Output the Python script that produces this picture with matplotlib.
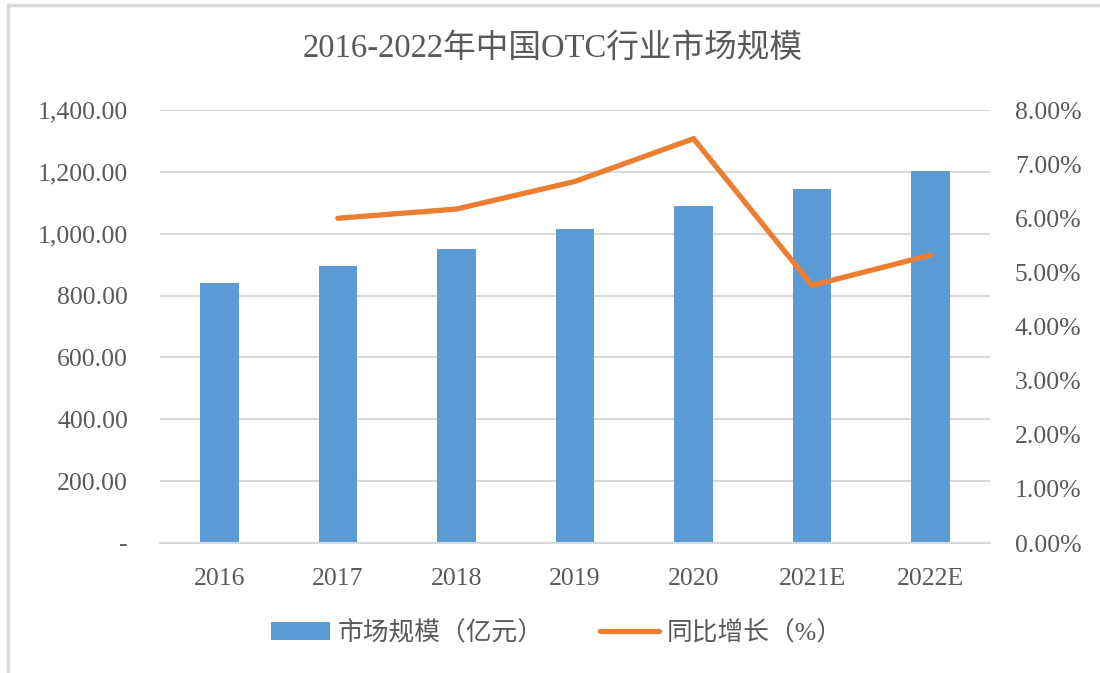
import matplotlib
matplotlib.use("Agg")
import matplotlib.pyplot as plt
from matplotlib.lines import Line2D
from matplotlib.ticker import FuncFormatter

years = ["2016", "2017", "2018", "2019", "2020", "2021E", "2022E"]
market_size = [842, 894, 952, 1015, 1090, 1143, 1204]   # 亿元
yoy_growth = [None, 6.00, 6.17, 6.68, 7.47, 4.76, 5.32]  # %

FONT = ["Liberation Serif", "Noto Sans CJK SC", "DejaVu Sans"]
plt.rcParams["font.family"] = FONT
TXT = "#595959"
GRID = "#D9D9D9"
BLUE = "#5B9BD5"
ORANGE = "#ED7D31"

fig = plt.figure(figsize=(11, 6.73), dpi=100)
ax = fig.add_axes([160 / 1100, 1 - 543 / 673, 830 / 1100, 433 / 673])
ax2 = ax.twinx()

x = list(range(len(years)))
ax.bar(x, market_size, width=0.325, color=BLUE, zorder=2, label="市场规模（亿元）")
lx = [i for i, v in zip(x, yoy_growth) if v is not None]
ly = [v for v in yoy_growth if v is not None]
ax2.plot(lx, ly, color=ORANGE, lw=3.8, solid_capstyle="round", solid_joinstyle="miter",
         label="同比增长（%）")

ax.set_xlim(-0.5, len(years) - 0.5)
ax.set_ylim(0, 1400)
ax.set_yticks(range(0, 1401, 200))
ax.yaxis.set_major_formatter(FuncFormatter(lambda v, p: "-" if v == 0 else f"{v:,.2f}"))
ax2.set_ylim(0, 8)
ax2.set_yticks(range(0, 9))
ax2.yaxis.set_major_formatter(FuncFormatter(lambda v, p: f"{v:.2f}%"))

ax.set_xticks(x)
ax.set_xticklabels(years)
ax.grid(axis="y", color=GRID, lw=1.5, zorder=0)
ax.set_axisbelow(True)
for a in (ax, ax2):
    for s in a.spines.values():
        s.set_visible(False)
ax.spines["bottom"].set_visible(True)
ax.spines["bottom"].set_color(GRID)
ax.spines["bottom"].set_linewidth(1.5)

ax.tick_params(axis="y", length=0, pad=23, labelsize=18.5, labelcolor=TXT)
ax.tick_params(axis="x", length=0, pad=18, labelsize=18.5, labelcolor=TXT)
ax2.tick_params(axis="y", length=0, pad=18, labelsize=18.5, labelcolor=TXT)

fig.text(553 / 1100, 1 - 48 / 673, "2016-2022年中国OTC行业市场规模", ha="center", va="center",
         fontsize=23.5, color=TXT)

h1, l1 = ax.get_legend_handles_labels()
h2, l2 = ax2.get_legend_handles_labels()
leg = fig.legend(h1 + h2, l1 + l2, loc="center", bbox_to_anchor=(557 / 1100, 1 - 633 / 673),
                 ncol=2, frameon=False, fontsize=18.5, handlelength=2.3, handletextpad=0.3,
                 columnspacing=2.2, labelcolor=TXT)

# outer frame (left and top edges visible)
fig.add_artist(Line2D([8 / 1100, 8 / 1100], [0, 1 - 5 / 673], color="#D9D9D9", lw=2.5,
                      transform=fig.transFigure))
fig.add_artist(Line2D([8 / 1100, 1], [1 - 5 / 673, 1 - 5 / 673], color="#D9D9D9", lw=2.5,
                      transform=fig.transFigure))

fig.savefig("out.png", dpi=100)
